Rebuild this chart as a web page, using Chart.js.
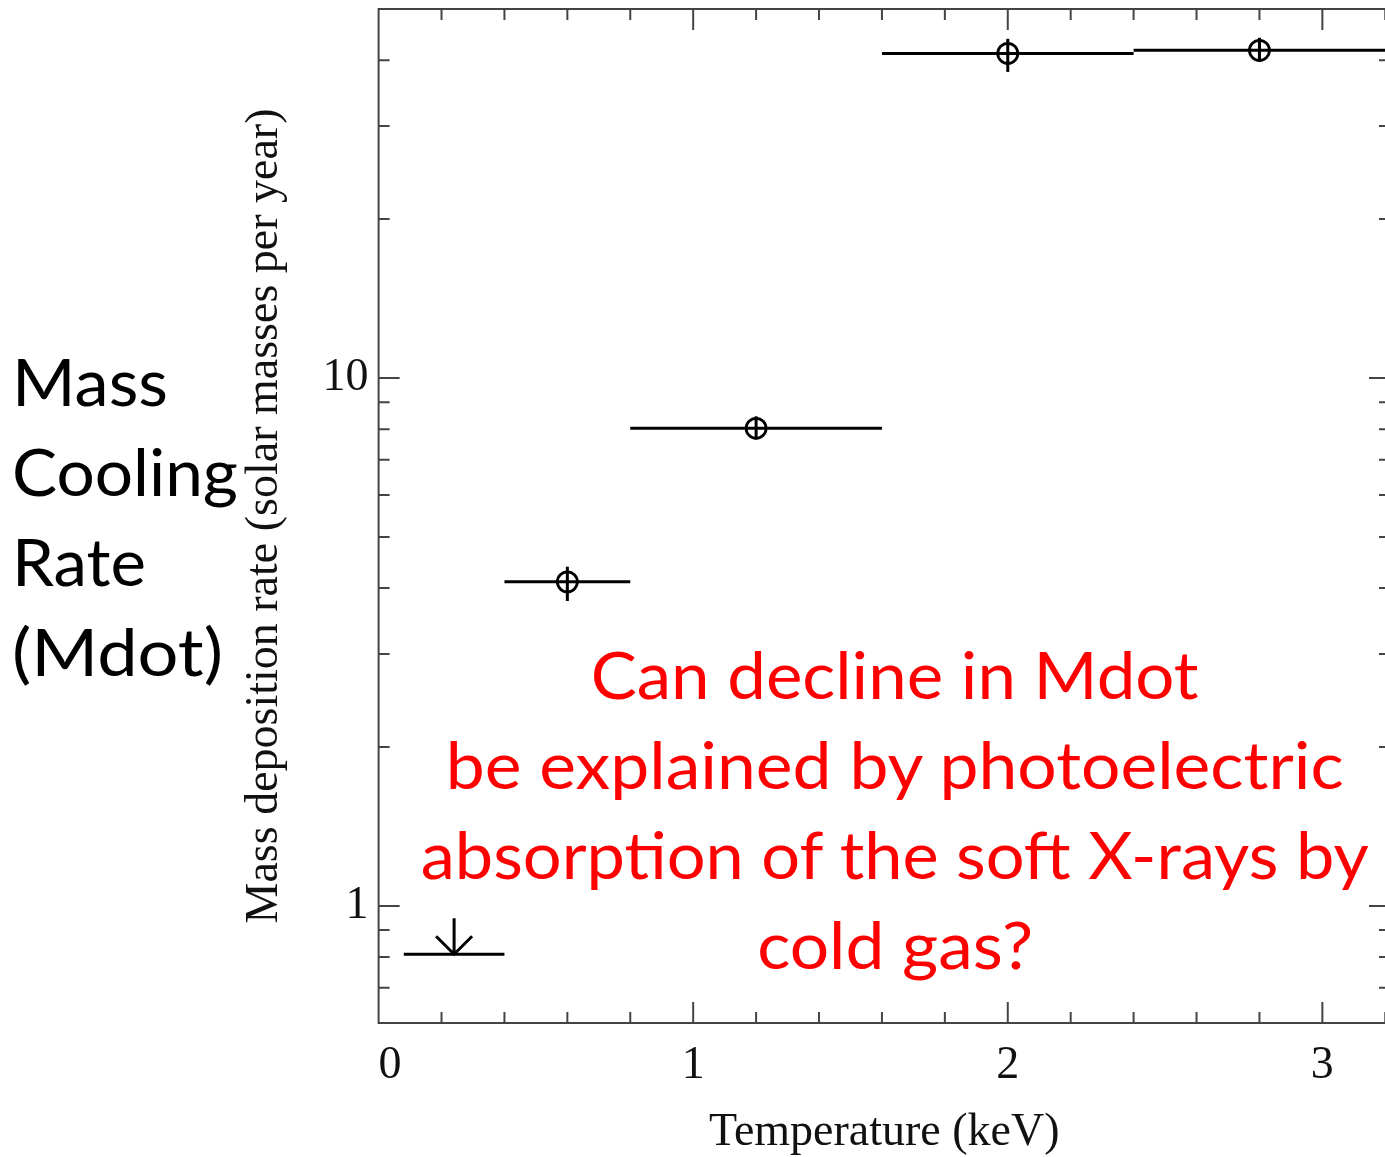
<!DOCTYPE html>
<html><head><meta charset="utf-8">
<script src="https://cdn.jsdelivr.net/npm/chart.js@4.4.1/dist/chart.umd.min.js"></script>
<style>
html,body{margin:0;padding:0;background:#fff;}
body{width:1385px;height:1157px;overflow:hidden;position:relative;}
#chartBox{position:absolute;left:237px;top:0;width:1155px;height:1157px;}
.t{position:absolute;left:0;top:0;white-space:pre;font-family:Lato,'Open Sans',sans-serif;font-size:66px;line-height:66px;}
</style></head><body>
<div id="chartBox"><canvas id="c" width="1155" height="1157"></canvas></div>
<script>
// ---- data ----
const temperatureCenters = [0.24, 0.6, 1.2, 2.0, 2.8];
const temperatureLow     = [0.08, 0.4, 0.8, 1.6, 2.4];
const temperatureHigh    = [0.4, 0.8, 1.6, 2.4, 3.2];
const massDeposition     = [0.81, 4.11, 8.03, 41.2, 41.75];
const massErrLow         = [null, 3.78, 7.65, 38.0, 39.7];
const massErrHigh        = [null, 4.39, 8.46, 43.9, 44.1];
const isUpperLimit       = [true, false, false, false, false];
const xTickValues = [0, 1, 2, 3];
const xTickLabels = ['  0', '1', '2', '3'];
const yTickValues = [1, 10];
const yTickLabels = ['1', '10'];
const xMinorStep = 0.2;
const yMinorValues = [0.6, 0.7, 0.8, 0.9, 2, 3, 4, 5, 6, 7, 8, 9, 20, 30, 40];
const sideLabelLines = ['Mass', 'Cooling', 'Rate', '(Mdot)'];
const noteLines = ['Can decline in Mdot', 'be explained by photoelectric', 'absorption of the soft X-rays by', 'cold gas?'];

// ---- plugins ----
const errorBars = {
  id: 'errorBars',
  afterDatasetsDraw(chart) {
    const {ctx, scales: {x, y}} = chart;
    ctx.save();
    ctx.strokeStyle = '#000';
    ctx.lineWidth = 3;
    ctx.lineCap = 'butt';
    for (let i = 0; i < massDeposition.length; i++) {
      const py = y.getPixelForValue(massDeposition[i]);
      ctx.beginPath();
      ctx.moveTo(x.getPixelForValue(temperatureLow[i]), py);
      ctx.lineTo(x.getPixelForValue(temperatureHigh[i]), py);
      ctx.stroke();
      const px = x.getPixelForValue(temperatureCenters[i]);
      ctx.beginPath();
      if (isUpperLimit[i]) {
        ctx.moveTo(px, py - 36); ctx.lineTo(px, py);
        ctx.moveTo(px - 18, py - 18); ctx.lineTo(px, py); ctx.lineTo(px + 18, py - 18);
      } else {
        ctx.moveTo(px, y.getPixelForValue(massErrLow[i]));
        ctx.lineTo(px, y.getPixelForValue(massErrHigh[i]));
      }
      ctx.stroke();
    }
    ctx.restore();
  }
};

const frameTicks = {
  id: 'frameTicks',
  afterDraw(chart) {
    const {ctx, chartArea: a, scales: {x, y}} = chart;
    ctx.save();
    ctx.strokeStyle = '#444';
    ctx.lineWidth = 2;
    ctx.strokeRect(a.left, a.top, a.right - a.left, a.bottom - a.top);
    ctx.beginPath();
    const nX = Math.floor(x.max / xMinorStep + 1e-9);
    for (let k = 1; k <= nX; k++) {
      const v = k * xMinorStep;
      const px = x.getPixelForValue(v);
      const major = xTickValues.some(t => Math.abs(t - v) < 1e-6);
      const L = major ? 21 : 11;
      ctx.moveTo(px, a.bottom); ctx.lineTo(px, a.bottom - L);
      ctx.moveTo(px, a.top); ctx.lineTo(px, a.top + L);
    }
    const drawY = (v, L) => {
      const py = y.getPixelForValue(v);
      ctx.moveTo(a.left, py); ctx.lineTo(a.left + L, py);
      ctx.moveTo(a.right, py); ctx.lineTo(a.right - L, py);
    };
    yMinorValues.forEach(v => drawY(v, 11));
    yTickValues.forEach(v => drawY(v, 21));
    ctx.stroke();
    ctx.restore();
  }
};

const noEdgePadding = s => { s.paddingTop = 0; s.paddingBottom = 0; s.paddingLeft = 0; s.paddingRight = 0; };
const serif = 'Liberation Serif, Times New Roman, serif';
new Chart(document.getElementById('c'), {
  type: 'scatter',
  data: {
    datasets: [{
      data: temperatureCenters.map((t, i) => ({x: t, y: massDeposition[i]})),
      pointStyle: 'circle',
      pointRadius: isUpperLimit.map(u => u ? 0 : 10),
      pointBorderWidth: 2.8,
      pointBorderColor: '#000',
      pointBackgroundColor: 'rgba(0,0,0,0)',
      showLine: false,
      clip: false
    }]
  },
  options: {
    responsive: false,
    animation: false,
    devicePixelRatio: 1,
    layout: {autoPadding: false, padding: {top: 9, right: 2, left: 0, bottom: 0}},
    plugins: {legend: {display: false}, tooltip: {enabled: false}},
    scales: {
      x: {
        type: 'linear', min: 0, max: 3.215,
        grid: {display: false, drawTicks: false},
        border: {display: false},
        afterBuildTicks: s => { s.ticks = xTickValues.map(v => ({value: v})); },
        afterFit: s => { s.height = 134; noEdgePadding(s); },
        ticks: {
          font: {family: serif, size: 46}, color: '#111', padding: 15,
          maxRotation: 0, autoSkip: false,
          callback: (v) => xTickLabels[xTickValues.indexOf(v)]
        },
        title: {display: true, text: 'Temperature (keV)', font: {family: serif, size: 46}, color: '#111', padding: {top: 0, bottom: -4}}
      },
      y: {
        type: 'logarithmic', min: 0.6, max: 50,
        grid: {display: false, drawTicks: false},
        border: {display: false},
        afterBuildTicks: s => { s.ticks = yTickValues.map(v => ({value: v})); },
        afterFit: s => { s.width = 141.6; noEdgePadding(s); },
        ticks: {
          font: {family: serif, size: 46}, color: '#111', padding: 10, autoSkip: false,
          callback: (v) => yTickLabels[yTickValues.indexOf(v)]
        },
        title: {display: true, text: 'Mass deposition rate (solar masses per year)', font: {family: serif, size: 46}, color: '#111', padding: {top: 0, bottom: 0}}
      }
    }
  },
  plugins: [errorBars, frameTicks]
});

// ---- slide text ----
function placeLines(lines, baselines, widths, color, align, ax) {
  const F = 66;
  lines.forEach((txt, i) => {
    const d = document.createElement('div');
    d.className = 't';
    d.textContent = txt;
    d.style.color = color;
    document.body.appendChild(d);
    const w = d.getBoundingClientRect().width;
    const s = widths[i] / w;
    d.style.top = (baselines[i] - 0.887 * F) + 'px';
    if (align === 'left') {
      d.style.left = ax + 'px';
      d.style.transformOrigin = '0 0';
    } else {
      d.style.left = (ax - w / 2) + 'px';
      d.style.transformOrigin = '50% 0';
    }
    d.style.transform = 'scaleX(' + s.toFixed(4) + ')';
  });
}
placeLines(sideLabelLines, [407, 497, 587, 677], [156, 226, 134, 211], '#000', 'left', 12);
placeLines(noteLines, [700, 790, 880, 970], [608, 898, 948, 276], '#ff0000', 'center', 895);
</script>
</body></html>
